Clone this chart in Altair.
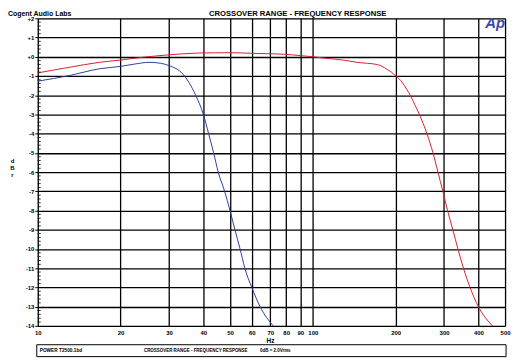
import altair as alt
import pandas as pd

# ---- data ----
blue_hz = [10, 13, 16.7, 20, 22.5, 25.4, 28, 30, 33.7, 35.4, 37.5, 40, 41.8, 43.6,
           45.3, 47.8, 50, 52.1, 54.4, 56.6, 60, 64.3, 71.8]
blue_db = [-1.27, -0.98, -0.63, -0.50, -0.38, -0.29, -0.34, -0.46, -0.9, -1.32, -2.0,
           -3.0, -4.0, -5.0, -6.0, -7.0, -8.0, -9.0, -10.0, -11.0, -12.0, -13.0, -14.0]

red_hz = [10, 13, 16.75, 20, 24, 30, 38, 50, 63, 79, 90, 100, 110, 130, 145, 172,
          186, 200, 211, 220, 226, 235, 244, 260, 273.5, 285, 297, 309, 323, 337, 353,
          373, 400, 450]
red_db = [-0.84, -0.55, -0.29, -0.17, -0.03, 0.10, 0.19, 0.21, 0.17, 0.13, 0.06, 0.0,
          -0.07, -0.18, -0.29, -0.41, -0.65, -0.98, -1.32, -1.72, -2.0, -2.5, -3.0, -4.0,
          -5.0, -6.0, -7.0, -8.0, -9.0, -10.0, -11.0, -12.0, -13.0, -14.0]

x_ticks = [10, 20, 30, 40, 50, 60, 70, 80, 90, 100, 200, 300, 400, 500]
y_ticks = list(range(-14, 3))
y_minor = [round(-14 + 0.2 * i, 1) for i in range(81) if (i % 5) != 0]

title_left = "Cogent Audio Labs"
title_center = "CROSSOVER RANGE - FREQUENCY RESPONSE"
logo = "Ap"
footer_file = "POWER T2500.1bd"
footer_title = "CROSSOVER RANGE - FREQUENCY RESPONSE"
footer_ref = "0dB = 2.0Vrms"

FONT = "Liberation Sans"

curves = pd.concat([
    pd.DataFrame({"hz": blue_hz, "db": blue_db, "series": "blue"}),
    pd.DataFrame({"hz": red_hz, "db": red_db, "series": "red"}),
])

xscale = alt.Scale(type="log", domain=[10, 500], nice=False)
yscale = alt.Scale(domain=[-14, 2], nice=False, zero=False)

x_axis = alt.Axis(values=x_ticks, format="d", grid=True, gridColor="black",
                  gridWidth=1.3, gridOpacity=1, domain=False, tickSize=0,
                  labelPadding=4, labelFontSize=6, labelFont=FONT,
                  labelFontWeight="bold", labelColor="black",
                  title="Hz", titleX=234, titleY=12, titleBaseline="top",
                  titleFontSize=6.5, titleFont=FONT, titleFontWeight="bold",
                  labelFlush=False, labelOverlap=False)
y_axis = alt.Axis(values=y_ticks,
                  labelExpr="datum.value > 0 ? '+' + datum.value : (datum.value == 0 ? '+0' : '-' + abs(datum.value))",
                  grid=True, gridColor="black", gridWidth=1.3, gridOpacity=1,
                  domain=False, tickSize=3, tickColor="black", tickWidth=1,
                  labelPadding=1, labelFontSize=6, labelFont=FONT,
                  labelFontWeight="bold", labelColor="black",
                  title=["d", "B", "r"], titleAngle=0, titleX=-26, titleY=146,
                  titleFontSize=6, titleFont=FONT, titleFontWeight="bold",
                  titleLineHeight=7, titleAlign="center",
                  labelFlush=False, labelOverlap=False)

lines = alt.Chart(curves).mark_line(strokeWidth=1, interpolate="monotone").encode(
    x=alt.X("hz:Q", scale=xscale, axis=x_axis),
    y=alt.Y("db:Q", scale=yscale, axis=y_axis),
    color=alt.Color("series:N", scale=alt.Scale(domain=["blue", "red"],
                                                range=["#2f3f9e", "#d8202e"]),
                    legend=None),
    detail="series:N",
)

minor = alt.Chart(pd.DataFrame({"db": y_minor})).mark_rule(color="black", strokeWidth=0.8).encode(
    y=alt.Y("db:Q", scale=yscale, axis=y_axis),
    x=alt.value(0), x2=alt.value(3),
)

def label(text, x, y, size, align="left", baseline="middle", color="black",
          style="normal", weight="bold"):
    return alt.Chart(pd.DataFrame({"t": [text]})).mark_text(
        align=align, baseline=baseline, fontSize=size, font=FONT,
        fontWeight=weight, fontStyle=style, color=color,
    ).encode(text="t:N", x=alt.value(x), y=alt.value(y))

box = alt.Chart(pd.DataFrame({"a": [0]})).mark_rect(
    fill="white", stroke="black", strokeWidth=1
).encode(x=alt.value(-1), x2=alt.value(472), y=alt.value(329), y2=alt.value(341))

chart = alt.layer(
    lines,
    minor,
    label(title_left, -30, -8, 7, baseline="top"),
    label(title_center, 262, -8, 7.7, align="center", baseline="top"),
    label(logo, 471, 10, 15, align="right", baseline="alphabetic",
          color="#3b4ba5", style="italic"),
    box,
    label(footer_file, 2, 335.5, 4.8),
    label(footer_title, 107, 335.5, 4.5),
    label(footer_ref, 224, 335.5, 4.5),
).properties(
    width=471, height=310,
    padding={"left": 30, "top": 9, "right": 7, "bottom": 32},
    autosize=alt.AutoSizeParams(type="none"),
).configure_view(stroke="black", strokeWidth=1.5).configure(background="white")

chart.save("out.html", embed_options={"renderer": "svg", "actions": False})
